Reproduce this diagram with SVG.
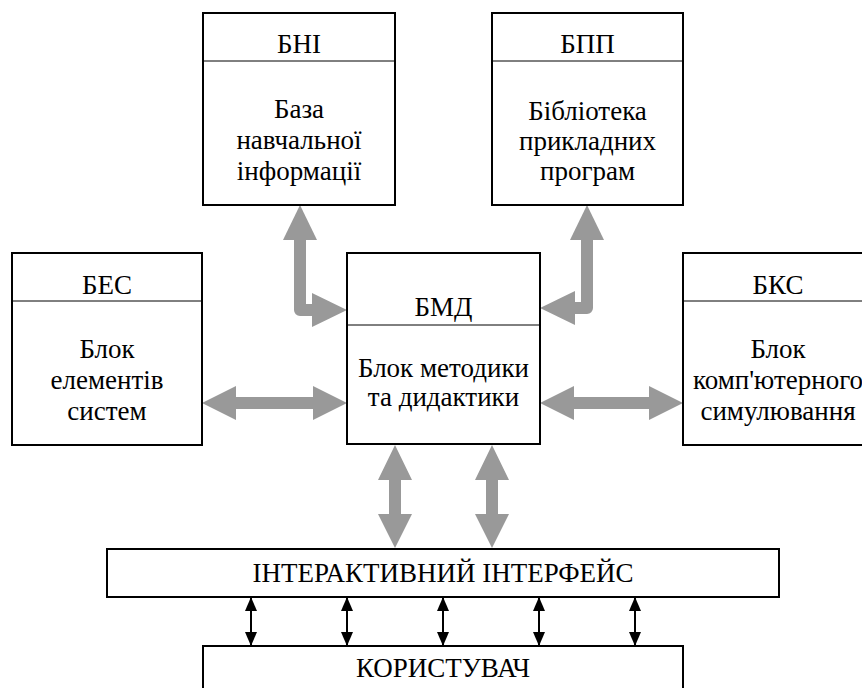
<svg xmlns="http://www.w3.org/2000/svg" width="862" height="688" viewBox="0 0 862 688">
<style>
  .box { fill: #fff; stroke: #000; stroke-width: 2; }
  .div { stroke: #000; stroke-width: 1; }
  .t { font-family: 'Liberation Serif', 'Times New Roman', serif; font-size: 27px; fill: #000; text-anchor: middle; }
  .ga { fill: #999; }
  .gs { fill: none; stroke: #999; stroke-width: 12; stroke-linejoin: round; }
  .ba { stroke: #000; stroke-width: 2; marker-start: url(#bh); marker-end: url(#bh); }
</style>
<defs>
  <marker id="bh" viewBox="0 0 14 12" refX="13" refY="6" markerWidth="14" markerHeight="12" markerUnits="userSpaceOnUse" orient="auto-start-reverse">
    <path d="M0,0 L14,6 L0,12 Z" fill="#000"/>
  </marker>
</defs>

<g id="connectors">
  <path class="gs" d="M300,238 V310 H314"/>
  <polygon class="ga" points="300,205 283,240 317,240"/>
  <polygon class="ga" points="347,310 312,293 312,327"/>
  <path class="gs" d="M587,238 V308 H573"/>
  <polygon class="ga" points="587,205 570,240 604,240"/>
  <polygon class="ga" points="540,308 575,291 575,325"/>
  <polygon class="ga" points="202,403 236,386 236,397 313,397 313,386 347,403 313,420 313,409 236,409 236,420"/>
  <polygon class="ga" points="540,403 574,386 574,397 649,397 649,386 683,403 649,420 649,409 574,409 574,420"/>
  <polygon class="ga" points="395,445 378,480 389,480 389,514 378,514 395,548 412,514 401,514 401,480 412,480"/>
  <polygon class="ga" points="492,445 475,480 486,480 486,514 475,514 492,548 509,514 498,514 498,480 509,480"/>
  <line class="ba" x1="251" y1="598" x2="251" y2="645"/>
  <line class="ba" x1="347" y1="598" x2="347" y2="645"/>
  <line class="ba" x1="443" y1="598" x2="443" y2="645"/>
  <line class="ba" x1="539" y1="598" x2="539" y2="645"/>
  <line class="ba" x1="635" y1="598" x2="635" y2="645"/>
</g>

<g id="bni">
  <rect class="box" x="203" y="13" width="192" height="192"/>
  <line class="div" x1="203" y1="61" x2="395" y2="61"/>
  <text class="t" x="299" y="53">БНІ</text>
  <text class="t" x="299" y="118">База</text>
  <text class="t" x="299" y="149">навчальної</text>
  <text class="t" x="299" y="180">інформації</text>
</g>

<g id="bpp">
  <rect class="box" x="492" y="13" width="191" height="192"/>
  <line class="div" x1="492" y1="61" x2="683" y2="61"/>
  <text class="t" x="587.5" y="53">БПП</text>
  <text class="t" x="587.5" y="120">Бібліотека</text>
  <text class="t" x="587.5" y="150">прикладних</text>
  <text class="t" x="587.5" y="180">програм</text>
</g>

<g id="bes">
  <rect class="box" x="12" y="253" width="190" height="192"/>
  <line class="div" x1="12" y1="301" x2="202" y2="301"/>
  <text class="t" x="107" y="294">БЕС</text>
  <text class="t" x="107" y="358">Блок</text>
  <text class="t" x="107" y="389">елементів</text>
  <text class="t" x="107" y="420">систем</text>
</g>

<g id="bmd">
  <rect class="box" x="347" y="253" width="193" height="191"/>
  <line class="div" x1="347" y1="325" x2="540" y2="325"/>
  <text class="t" x="443.5" y="316">БМД</text>
  <text class="t" x="443.5" y="377">Блок методики</text>
  <text class="t" x="443.5" y="406">та дидактики</text>
</g>

<g id="bks">
  <rect class="box" x="683" y="253" width="192" height="192"/>
  <line class="div" x1="683" y1="301" x2="875" y2="301"/>
  <text class="t" x="778" y="294">БКС</text>
  <text class="t" x="778" y="358">Блок</text>
  <text class="t" x="778" y="389">комп'ютерного</text>
  <text class="t" x="778" y="420">симулювання</text>
</g>

<g id="interface">
  <rect class="box" x="107" y="549" width="672" height="48"/>
  <text class="t" x="443" y="582">ІНТЕРАКТИВНИЙ ІНТЕРФЕЙС</text>
</g>

<g id="user">
  <rect class="box" x="203" y="646" width="480" height="60"/>
  <text class="t" x="443" y="677">КОРИСТУВАЧ</text>
</g>
</svg>
